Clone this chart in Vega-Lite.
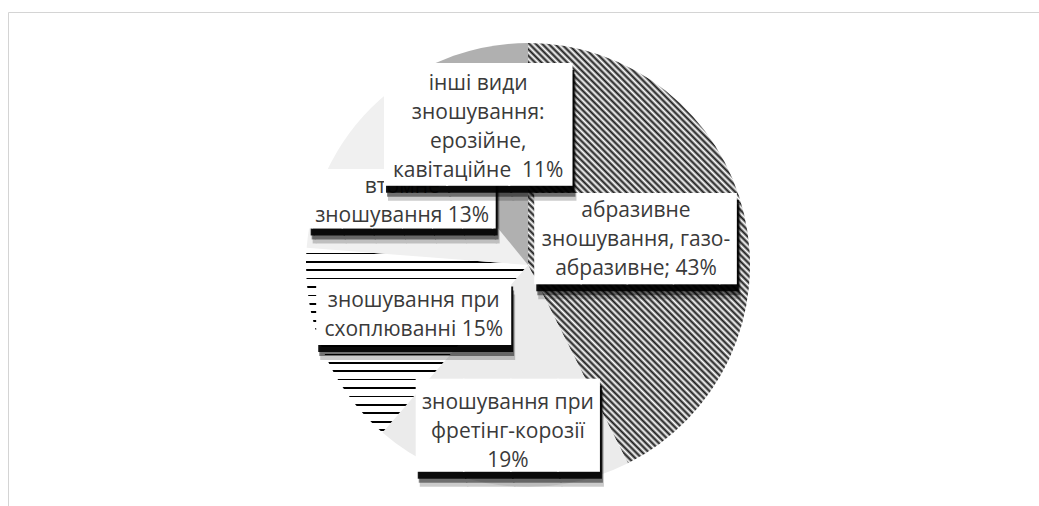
{
  "$schema": "https://vega.github.io/schema/vega-lite/v6.json",
  "width": 1031,
  "height": 494,
  "autosize": {"type": "none"},
  "padding": {"left": 8, "top": 12, "right": 0, "bottom": 0},
  "background": "white",
  "view": {"stroke": "#d4d4d4", "strokeWidth": 1, "fill": "white"},
  "config": {"view": {"stroke": "#d4d4d4", "strokeWidth": 1}},
  "data": {"values": [
    {"name": "абразивне", "value": 43, "label": "абразивне\nзношування, газо-\nабразивне; 43%"},
    {"name": "фретінг", "value": 19, "label": "зношування при\nфретінг-корозії\n19%"},
    {"name": "схоплювання", "value": 15, "label": "зношування при\nсхоплюванні 15%"},
    {"name": "втомне", "value": 13, "label": "втомне\nзношування 13%"},
    {"name": "інші", "value": 11, "label": "інші види\nзношування:\nерозійне,\nкавітаційне\u00a0 11%"}
  ]},
  "encoding": {
    "theta": {"field": "value", "type": "quantitative", "stack": true},
    "order": {"field": "value", "sort": "descending"}
  },
  "layer": [
    {
      "mark": {"type": "arc", "radius": 222, "xOffset": 4.5, "yOffset": 6},
      "encoding": {
        "fill": {
          "condition": [
            {"test": "datum.name === 'абразивне'", "value": {"gradient": "linear", "x1": 0, "y1": 1, "x2": 0.6312, "y2": -0.1949, "stops": [
              {"offset":0,"color":"#fff"},{"offset":0.005,"color":"#1a1a1a"},{"offset":0.01,"color":"#fff"},{"offset":0.015,"color":"#1a1a1a"},{"offset":0.02,"color":"#fff"},{"offset":0.025,"color":"#1a1a1a"},{"offset":0.03,"color":"#fff"},{"offset":0.035,"color":"#1a1a1a"},{"offset":0.04,"color":"#fff"},{"offset":0.045,"color":"#1a1a1a"},
              {"offset":0.05,"color":"#fff"},{"offset":0.055,"color":"#1a1a1a"},{"offset":0.06,"color":"#fff"},{"offset":0.065,"color":"#1a1a1a"},{"offset":0.07,"color":"#fff"},{"offset":0.075,"color":"#1a1a1a"},{"offset":0.08,"color":"#fff"},{"offset":0.085,"color":"#1a1a1a"},{"offset":0.09,"color":"#fff"},{"offset":0.095,"color":"#1a1a1a"},
              {"offset":0.1,"color":"#fff"},{"offset":0.105,"color":"#1a1a1a"},{"offset":0.11,"color":"#fff"},{"offset":0.115,"color":"#1a1a1a"},{"offset":0.12,"color":"#fff"},{"offset":0.125,"color":"#1a1a1a"},{"offset":0.13,"color":"#fff"},{"offset":0.135,"color":"#1a1a1a"},{"offset":0.14,"color":"#fff"},{"offset":0.145,"color":"#1a1a1a"},
              {"offset":0.15,"color":"#fff"},{"offset":0.155,"color":"#1a1a1a"},{"offset":0.16,"color":"#fff"},{"offset":0.165,"color":"#1a1a1a"},{"offset":0.17,"color":"#fff"},{"offset":0.175,"color":"#1a1a1a"},{"offset":0.18,"color":"#fff"},{"offset":0.185,"color":"#1a1a1a"},{"offset":0.19,"color":"#fff"},{"offset":0.195,"color":"#1a1a1a"},
              {"offset":0.2,"color":"#fff"},{"offset":0.205,"color":"#1a1a1a"},{"offset":0.21,"color":"#fff"},{"offset":0.215,"color":"#1a1a1a"},{"offset":0.22,"color":"#fff"},{"offset":0.225,"color":"#1a1a1a"},{"offset":0.23,"color":"#fff"},{"offset":0.235,"color":"#1a1a1a"},{"offset":0.24,"color":"#fff"},{"offset":0.245,"color":"#1a1a1a"},
              {"offset":0.25,"color":"#fff"},{"offset":0.255,"color":"#1a1a1a"},{"offset":0.26,"color":"#fff"},{"offset":0.265,"color":"#1a1a1a"},{"offset":0.27,"color":"#fff"},{"offset":0.275,"color":"#1a1a1a"},{"offset":0.28,"color":"#fff"},{"offset":0.285,"color":"#1a1a1a"},{"offset":0.29,"color":"#fff"},{"offset":0.295,"color":"#1a1a1a"},
              {"offset":0.3,"color":"#fff"},{"offset":0.305,"color":"#1a1a1a"},{"offset":0.31,"color":"#fff"},{"offset":0.315,"color":"#1a1a1a"},{"offset":0.32,"color":"#fff"},{"offset":0.325,"color":"#1a1a1a"},{"offset":0.33,"color":"#fff"},{"offset":0.335,"color":"#1a1a1a"},{"offset":0.34,"color":"#fff"},{"offset":0.345,"color":"#1a1a1a"},
              {"offset":0.35,"color":"#fff"},{"offset":0.355,"color":"#1a1a1a"},{"offset":0.36,"color":"#fff"},{"offset":0.365,"color":"#1a1a1a"},{"offset":0.37,"color":"#fff"},{"offset":0.375,"color":"#1a1a1a"},{"offset":0.38,"color":"#fff"},{"offset":0.385,"color":"#1a1a1a"},{"offset":0.39,"color":"#fff"},{"offset":0.395,"color":"#1a1a1a"},
              {"offset":0.4,"color":"#fff"},{"offset":0.405,"color":"#1a1a1a"},{"offset":0.41,"color":"#fff"},{"offset":0.415,"color":"#1a1a1a"},{"offset":0.42,"color":"#fff"},{"offset":0.425,"color":"#1a1a1a"},{"offset":0.43,"color":"#fff"},{"offset":0.435,"color":"#1a1a1a"},{"offset":0.44,"color":"#fff"},{"offset":0.445,"color":"#1a1a1a"},
              {"offset":0.45,"color":"#fff"},{"offset":0.455,"color":"#1a1a1a"},{"offset":0.46,"color":"#fff"},{"offset":0.465,"color":"#1a1a1a"},{"offset":0.47,"color":"#fff"},{"offset":0.475,"color":"#1a1a1a"},{"offset":0.48,"color":"#fff"},{"offset":0.485,"color":"#1a1a1a"},{"offset":0.49,"color":"#fff"},{"offset":0.495,"color":"#1a1a1a"},
              {"offset":0.5,"color":"#fff"},{"offset":0.505,"color":"#1a1a1a"},{"offset":0.51,"color":"#fff"},{"offset":0.515,"color":"#1a1a1a"},{"offset":0.52,"color":"#fff"},{"offset":0.525,"color":"#1a1a1a"},{"offset":0.53,"color":"#fff"},{"offset":0.535,"color":"#1a1a1a"},{"offset":0.54,"color":"#fff"},{"offset":0.545,"color":"#1a1a1a"},
              {"offset":0.55,"color":"#fff"},{"offset":0.555,"color":"#1a1a1a"},{"offset":0.56,"color":"#fff"},{"offset":0.565,"color":"#1a1a1a"},{"offset":0.57,"color":"#fff"},{"offset":0.575,"color":"#1a1a1a"},{"offset":0.58,"color":"#fff"},{"offset":0.585,"color":"#1a1a1a"},{"offset":0.59,"color":"#fff"},{"offset":0.595,"color":"#1a1a1a"},
              {"offset":0.6,"color":"#fff"},{"offset":0.605,"color":"#1a1a1a"},{"offset":0.61,"color":"#fff"},{"offset":0.615,"color":"#1a1a1a"},{"offset":0.62,"color":"#fff"},{"offset":0.625,"color":"#1a1a1a"},{"offset":0.63,"color":"#fff"},{"offset":0.635,"color":"#1a1a1a"},{"offset":0.64,"color":"#fff"},{"offset":0.645,"color":"#1a1a1a"},
              {"offset":0.65,"color":"#fff"},{"offset":0.655,"color":"#1a1a1a"},{"offset":0.66,"color":"#fff"},{"offset":0.665,"color":"#1a1a1a"},{"offset":0.67,"color":"#fff"},{"offset":0.675,"color":"#1a1a1a"},{"offset":0.68,"color":"#fff"},{"offset":0.685,"color":"#1a1a1a"},{"offset":0.69,"color":"#fff"},{"offset":0.695,"color":"#1a1a1a"},
              {"offset":0.7,"color":"#fff"},{"offset":0.705,"color":"#1a1a1a"},{"offset":0.71,"color":"#fff"},{"offset":0.715,"color":"#1a1a1a"},{"offset":0.72,"color":"#fff"},{"offset":0.725,"color":"#1a1a1a"},{"offset":0.73,"color":"#fff"},{"offset":0.735,"color":"#1a1a1a"},{"offset":0.74,"color":"#fff"},{"offset":0.745,"color":"#1a1a1a"},
              {"offset":0.75,"color":"#fff"},{"offset":0.755,"color":"#1a1a1a"},{"offset":0.76,"color":"#fff"},{"offset":0.765,"color":"#1a1a1a"},{"offset":0.77,"color":"#fff"},{"offset":0.775,"color":"#1a1a1a"},{"offset":0.78,"color":"#fff"},{"offset":0.785,"color":"#1a1a1a"},{"offset":0.79,"color":"#fff"},{"offset":0.795,"color":"#1a1a1a"},
              {"offset":0.8,"color":"#fff"},{"offset":0.805,"color":"#1a1a1a"},{"offset":0.81,"color":"#fff"},{"offset":0.815,"color":"#1a1a1a"},{"offset":0.82,"color":"#fff"},{"offset":0.825,"color":"#1a1a1a"},{"offset":0.83,"color":"#fff"},{"offset":0.835,"color":"#1a1a1a"},{"offset":0.84,"color":"#fff"},{"offset":0.845,"color":"#1a1a1a"},
              {"offset":0.85,"color":"#fff"},{"offset":0.855,"color":"#1a1a1a"},{"offset":0.86,"color":"#fff"},{"offset":0.865,"color":"#1a1a1a"},{"offset":0.87,"color":"#fff"},{"offset":0.875,"color":"#1a1a1a"},{"offset":0.88,"color":"#fff"},{"offset":0.885,"color":"#1a1a1a"},{"offset":0.89,"color":"#fff"},{"offset":0.895,"color":"#1a1a1a"},
              {"offset":0.9,"color":"#fff"},{"offset":0.905,"color":"#1a1a1a"},{"offset":0.91,"color":"#fff"},{"offset":0.915,"color":"#1a1a1a"},{"offset":0.92,"color":"#fff"},{"offset":0.925,"color":"#1a1a1a"},{"offset":0.93,"color":"#fff"},{"offset":0.935,"color":"#1a1a1a"},{"offset":0.94,"color":"#fff"},{"offset":0.945,"color":"#1a1a1a"},
              {"offset":0.95,"color":"#fff"},{"offset":0.955,"color":"#1a1a1a"},{"offset":0.96,"color":"#fff"},{"offset":0.965,"color":"#1a1a1a"},{"offset":0.97,"color":"#fff"},{"offset":0.975,"color":"#1a1a1a"},{"offset":0.98,"color":"#fff"},{"offset":0.985,"color":"#1a1a1a"},{"offset":0.99,"color":"#fff"},{"offset":0.995,"color":"#1a1a1a"},
              {"offset":1,"color":"#fff"}
            ]}},
            {"test": "datum.name === 'схоплювання'", "value": {"gradient": "linear", "x1": 0, "y1": 0, "x2": 0, "y2": 1, "stops": [
              {"offset":0,"color":"#fff"},
              {"offset":0.0258,"color":"#fff"},{"offset":0.0258,"color":"#000"},{"offset":0.0348,"color":"#000"},{"offset":0.0348,"color":"#fff"},
              {"offset":0.0714,"color":"#fff"},{"offset":0.0714,"color":"#000"},{"offset":0.0804,"color":"#000"},{"offset":0.0804,"color":"#fff"},
              {"offset":0.1169,"color":"#fff"},{"offset":0.1169,"color":"#000"},{"offset":0.1259,"color":"#000"},{"offset":0.1259,"color":"#fff"},
              {"offset":0.1625,"color":"#fff"},{"offset":0.1625,"color":"#000"},{"offset":0.1715,"color":"#000"},{"offset":0.1715,"color":"#fff"},
              {"offset":0.2080,"color":"#fff"},{"offset":0.2080,"color":"#000"},{"offset":0.2170,"color":"#000"},{"offset":0.2170,"color":"#fff"},
              {"offset":0.2536,"color":"#fff"},{"offset":0.2536,"color":"#000"},{"offset":0.2626,"color":"#000"},{"offset":0.2626,"color":"#fff"},
              {"offset":0.2992,"color":"#fff"},{"offset":0.2992,"color":"#000"},{"offset":0.3082,"color":"#000"},{"offset":0.3082,"color":"#fff"},
              {"offset":0.3447,"color":"#fff"},{"offset":0.3447,"color":"#000"},{"offset":0.3537,"color":"#000"},{"offset":0.3537,"color":"#fff"},
              {"offset":0.3903,"color":"#fff"},{"offset":0.3903,"color":"#000"},{"offset":0.3993,"color":"#000"},{"offset":0.3993,"color":"#fff"},
              {"offset":0.4358,"color":"#fff"},{"offset":0.4358,"color":"#000"},{"offset":0.4448,"color":"#000"},{"offset":0.4448,"color":"#fff"},
              {"offset":0.4814,"color":"#fff"},{"offset":0.4814,"color":"#000"},{"offset":0.4904,"color":"#000"},{"offset":0.4904,"color":"#fff"},
              {"offset":0.5270,"color":"#fff"},{"offset":0.5270,"color":"#000"},{"offset":0.5360,"color":"#000"},{"offset":0.5360,"color":"#fff"},
              {"offset":0.5725,"color":"#fff"},{"offset":0.5725,"color":"#000"},{"offset":0.5815,"color":"#000"},{"offset":0.5815,"color":"#fff"},
              {"offset":0.6181,"color":"#fff"},{"offset":0.6181,"color":"#000"},{"offset":0.6271,"color":"#000"},{"offset":0.6271,"color":"#fff"},
              {"offset":0.6636,"color":"#fff"},{"offset":0.6636,"color":"#000"},{"offset":0.6726,"color":"#000"},{"offset":0.6726,"color":"#fff"},
              {"offset":0.7092,"color":"#fff"},{"offset":0.7092,"color":"#000"},{"offset":0.7182,"color":"#000"},{"offset":0.7182,"color":"#fff"},
              {"offset":0.7548,"color":"#fff"},{"offset":0.7548,"color":"#000"},{"offset":0.7638,"color":"#000"},{"offset":0.7638,"color":"#fff"},
              {"offset":0.8003,"color":"#fff"},{"offset":0.8003,"color":"#000"},{"offset":0.8093,"color":"#000"},{"offset":0.8093,"color":"#fff"},
              {"offset":0.8459,"color":"#fff"},{"offset":0.8459,"color":"#000"},{"offset":0.8549,"color":"#000"},{"offset":0.8549,"color":"#fff"},
              {"offset":0.8914,"color":"#fff"},{"offset":0.8914,"color":"#000"},{"offset":0.9004,"color":"#000"},{"offset":0.9004,"color":"#fff"},
              {"offset":0.9370,"color":"#fff"},{"offset":0.9370,"color":"#000"},{"offset":0.9460,"color":"#000"},{"offset":0.9460,"color":"#fff"},
              {"offset":0.9826,"color":"#fff"},{"offset":0.9826,"color":"#000"},{"offset":0.9916,"color":"#000"},{"offset":0.9916,"color":"#fff"},
              {"offset":1,"color":"#fff"}
            ]}},
            {"test": "datum.name === 'фретінг'", "value": "#ebebeb"},
            {"test": "datum.name === 'інші'", "value": "#b0b0b0"}
          ],
          "value": "#f0f0f0"
        }
      }
    },
    {
      "mark": {"type": "text", "font": "DejaVu Sans Mono", "align": "center", "baseline": "middle", "fill": "black", "xOffset": 4.5, "yOffset": 6,
        "dx": {"expr": "4 + (datum.name === 'абразивне' ? 14.4 : datum.name === 'фретінг' ? 2.9 : datum.name === 'схоплювання' ? 2.1 : 0)"},
        "dy": {"expr": "15 + (datum.name === 'абразивне' ? 3.1 : datum.name === 'фретінг' ? 3.1 : datum.name === 'схоплювання' ? 2.2 : datum.name === 'втомне' ? 2 : 4.1)"}},
      "encoding": {
        "radius": {"value": {"expr": "datum.name === 'абразивне' ? 111 : datum.name === 'фретінг' ? 162 : datum.name === 'схоплювання' ? 123.5 : datum.name === 'втомне' ? 142 : 148.5"}},
        "text": {"condition": [
          {"test": "datum.name === 'абразивне'", "value": "████▍"},
          {"test": "datum.name === 'фретінг'", "value": "███▉"},
          {"test": "datum.name === 'схоплювання'", "value": "█████▉"},
          {"test": "datum.name === 'втомне'", "value": "▕██████▏"}
        ], "value": "███"},
        "size": {"condition": [
          {"test": "datum.name === 'абразивне'", "value": 76.7},
          {"test": "datum.name === 'фретінг'", "value": 78.3},
          {"test": "datum.name === 'схоплювання'", "value": 55},
          {"test": "datum.name === 'втомне'", "value": 50}
        ], "value": 103.3},
        "opacity": {"condition": {"test": "datum.name === 'інші'", "value": 0}, "value": 0.2}
      }
    },
    {
      "mark": {"type": "text", "font": "DejaVu Sans Mono", "align": "center", "baseline": "middle", "fill": "black", "xOffset": 4.5, "yOffset": 6,
        "dx": {"expr": "3 + (datum.name === 'абразивне' ? 14.4 : datum.name === 'фретінг' ? 2.9 : datum.name === 'схоплювання' ? 2.1 : 0)"},
        "dy": {"expr": "11 + (datum.name === 'абразивне' ? 3.1 : datum.name === 'фретінг' ? 3.1 : datum.name === 'схоплювання' ? 2.2 : datum.name === 'втомне' ? 2 : 4.1)"}},
      "encoding": {
        "radius": {"value": {"expr": "datum.name === 'абразивне' ? 111 : datum.name === 'фретінг' ? 162 : datum.name === 'схоплювання' ? 123.5 : datum.name === 'втомне' ? 142 : 148.5"}},
        "text": {"condition": [
          {"test": "datum.name === 'абразивне'", "value": "████▍"},
          {"test": "datum.name === 'фретінг'", "value": "███▉"},
          {"test": "datum.name === 'схоплювання'", "value": "█████▉"},
          {"test": "datum.name === 'втомне'", "value": "▕██████▏"}
        ], "value": "███"},
        "size": {"condition": [
          {"test": "datum.name === 'абразивне'", "value": 76.7},
          {"test": "datum.name === 'фретінг'", "value": 78.3},
          {"test": "datum.name === 'схоплювання'", "value": 55},
          {"test": "datum.name === 'втомне'", "value": 50}
        ], "value": 103.3},
        "opacity": {"condition": {"test": "datum.name === 'інші'", "value": 0}, "value": 0.45}
      }
    },
    {
      "mark": {"type": "text", "font": "DejaVu Sans Mono", "align": "center", "baseline": "middle", "fill": "black", "xOffset": 4.5, "yOffset": 6,
        "dx": {"expr": "2 + (datum.name === 'абразивне' ? 14.4 : datum.name === 'фретінг' ? 2.9 : datum.name === 'схоплювання' ? 2.1 : 0)"},
        "dy": {"expr": "7 + (datum.name === 'абразивне' ? 3.1 : datum.name === 'фретінг' ? 3.1 : datum.name === 'схоплювання' ? 2.2 : datum.name === 'втомне' ? 2 : 4.1)"}},
      "encoding": {
        "radius": {"value": {"expr": "datum.name === 'абразивне' ? 111 : datum.name === 'фретінг' ? 162 : datum.name === 'схоплювання' ? 123.5 : datum.name === 'втомне' ? 142 : 148.5"}},
        "text": {"condition": [
          {"test": "datum.name === 'абразивне'", "value": "████▍"},
          {"test": "datum.name === 'фретінг'", "value": "███▉"},
          {"test": "datum.name === 'схоплювання'", "value": "█████▉"},
          {"test": "datum.name === 'втомне'", "value": "▕██████▏"}
        ], "value": "███"},
        "size": {"condition": [
          {"test": "datum.name === 'абразивне'", "value": 76.7},
          {"test": "datum.name === 'фретінг'", "value": 78.3},
          {"test": "datum.name === 'схоплювання'", "value": 55},
          {"test": "datum.name === 'втомне'", "value": 50}
        ], "value": 103.3},
        "opacity": {"condition": {"test": "datum.name === 'інші'", "value": 0}, "value": 0.9}
      }
    },
    {
      "mark": {"type": "text", "font": "DejaVu Sans Mono", "align": "center", "baseline": "middle", "fill": "white", "xOffset": 4.5, "yOffset": 6,
        "dx": {"expr": "datum.name === 'абразивне' ? 14.4 : datum.name === 'фретінг' ? 2.9 : datum.name === 'схоплювання' ? 2.1 : 0"},
        "dy": {"expr": "datum.name === 'абразивне' ? 3.1 : datum.name === 'фретінг' ? 3.1 : datum.name === 'схоплювання' ? 2.2 : datum.name === 'втомне' ? 2 : 4.1"}},
      "encoding": {
        "radius": {"value": {"expr": "datum.name === 'абразивне' ? 111 : datum.name === 'фретінг' ? 162 : datum.name === 'схоплювання' ? 123.5 : datum.name === 'втомне' ? 142 : 148.5"}},
        "text": {"condition": [
          {"test": "datum.name === 'абразивне'", "value": "████▍"},
          {"test": "datum.name === 'фретінг'", "value": "███▉"},
          {"test": "datum.name === 'схоплювання'", "value": "█████▉"},
          {"test": "datum.name === 'втомне'", "value": "▕██████▏"}
        ], "value": "███"},
        "size": {"condition": [
          {"test": "datum.name === 'абразивне'", "value": 76.7},
          {"test": "datum.name === 'фретінг'", "value": 78.3},
          {"test": "datum.name === 'схоплювання'", "value": 55},
          {"test": "datum.name === 'втомне'", "value": 50}
        ], "value": 103.3},
        "opacity": {"condition": {"test": "datum.name === 'інші'", "value": 0}, "value": 1}
      }
    },
    {
      "mark": {"type": "text", "font": "Open Sans", "fontSize": 21, "lineHeight": 29, "lineBreak": "\n", "color": "#3a3a3a", "align": "center", "baseline": "middle", "xOffset": 4.5, "yOffset": 6,
        "dy": {"expr": "datum.name === 'абразивне' ? -28 : datum.name === 'фретінг' ? -23 : datum.name === 'схоплювання' ? -11 : datum.name === 'втомне' ? -12.5 : -41"}},
      "encoding": {
        "radius": {"value": {"expr": "datum.name === 'абразивне' ? 111 : datum.name === 'фретінг' ? 162 : datum.name === 'схоплювання' ? 123.5 : datum.name === 'втомне' ? 142 : 148.5"}},
        "text": {"field": "label", "type": "nominal"},
        "opacity": {"condition": {"test": "datum.name === 'інші'", "value": 0}, "value": 1}
      }
    },
    {
      "mark": {"type": "text", "font": "DejaVu Sans Mono", "align": "center", "baseline": "middle", "fill": "black", "xOffset": 4.5, "yOffset": 6, "dx": 4, "dy": 19.1},
      "encoding": {
        "radius": {"value": 148.5},
        "text": {"value": "███"},
        "size": {"value": 103.3},
        "opacity": {"condition": {"test": "datum.name === 'інші'", "value": 0.2}, "value": 0}
      }
    },
    {
      "mark": {"type": "text", "font": "DejaVu Sans Mono", "align": "center", "baseline": "middle", "fill": "black", "xOffset": 4.5, "yOffset": 6, "dx": 3, "dy": 15.1},
      "encoding": {
        "radius": {"value": 148.5},
        "text": {"value": "███"},
        "size": {"value": 103.3},
        "opacity": {"condition": {"test": "datum.name === 'інші'", "value": 0.45}, "value": 0}
      }
    },
    {
      "mark": {"type": "text", "font": "DejaVu Sans Mono", "align": "center", "baseline": "middle", "fill": "black", "xOffset": 4.5, "yOffset": 6, "dx": 2, "dy": 11.1},
      "encoding": {
        "radius": {"value": 148.5},
        "text": {"value": "███"},
        "size": {"value": 103.3},
        "opacity": {"condition": {"test": "datum.name === 'інші'", "value": 0.9}, "value": 0}
      }
    },
    {
      "mark": {"type": "text", "font": "DejaVu Sans Mono", "align": "center", "baseline": "middle", "fill": "white", "xOffset": 4.5, "yOffset": 6, "dx": 0, "dy": 4.1},
      "encoding": {
        "radius": {"value": 148.5},
        "text": {"value": "███"},
        "size": {"value": 103.3},
        "opacity": {"condition": {"test": "datum.name === 'інші'", "value": 1}, "value": 0}
      }
    },
    {
      "mark": {"type": "text", "font": "Open Sans", "fontSize": 21, "lineHeight": 29, "lineBreak": "\n", "color": "#3a3a3a", "align": "center", "baseline": "middle", "xOffset": 4.5, "yOffset": 6, "dy": -41},
      "encoding": {
        "radius": {"value": 148.5},
        "text": {"field": "label", "type": "nominal"},
        "opacity": {"condition": {"test": "datum.name === 'інші'", "value": 1}, "value": 0}
      }
    }
  ]
}
